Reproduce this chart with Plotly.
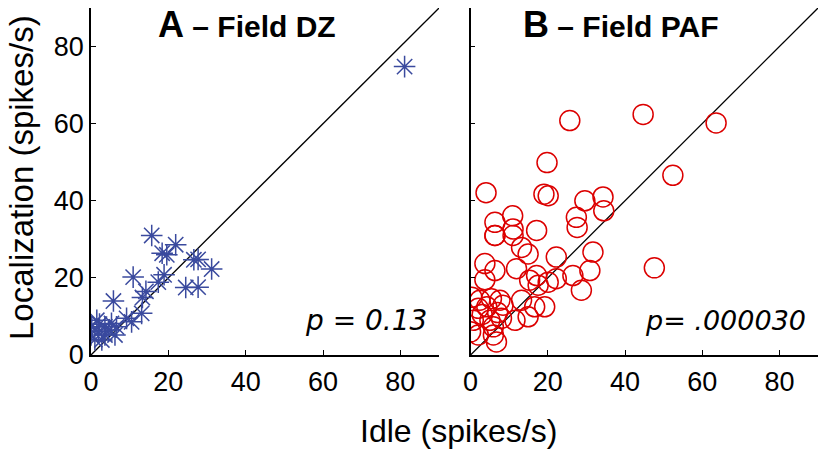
import plotly.graph_objects as go
from plotly.subplots import make_subplots

# Panel A - Field DZ (idle, localization)
dz_idle = [81.1, 15.7, 21.9, 18.4, 19.6, 26.6, 27.7, 31.2, 10.9, 18.9, 17.4, 24.5, 27.7,
           14.2, 13.3, 5.8, 13.1, 9.2, 10.5, 1.5, 5.3, 3.6, 6.6, 1.9, 0.2, 0.0, 3.6, 6.2,
           2.8, 1.0, 4.5, 2.2]
dz_loc = [74.8, 31.0, 28.6, 26.4, 26.0, 24.7, 24.8, 22.3, 20.2, 20.8, 18.9, 17.5, 17.6,
          16.5, 14.9, 14.0, 10.8, 9.5, 8.6, 9.0, 8.2, 7.3, 7.3, 6.0, 7.3, 5.2, 5.2, 5.2,
          3.9, 4.0, 6.5, 8.0]

# Panel B - Field PAF (idle, localization)
paf_idle = [25.7, 44.7, 63.6, 52.4, 47.6, 19.8, 4.0, 19.0, 20.1, 29.6, 34.3, 34.5, 10.9,
            6.3, 27.4, 27.6, 17.1, 11.0, 6.3, 6.3, 11.0, 31.7, 13.2, 14.9, 22.2, 30.9,
            26.5, 28.7, 3.7, 6.3, 11.9, 17.1, 3.7, 15.3, 17.5, 20.1, 22.2, 0.3, 2.4, 5.4,
            7.6, 8.4, 4.2, 2.0, 13.2, 16.6, 19.2, 14.9, 11.5, 8.0, 5.0, 0.7, 5.9, 0.0,
            2.0, 5.9, 6.7, 3.0, 7.0]
paf_loc = [60.8, 62.4, 60.2, 46.6, 22.6, 49.9, 42.1, 41.7, 41.3, 40.0, 41.0, 37.4, 36.1,
           34.4, 35.7, 33.1, 32.3, 32.7, 31.0, 31.0, 31.0, 26.7, 27.9, 26.2, 25.4, 21.9,
           20.6, 16.8, 23.7, 21.9, 22.4, 20.6, 19.5, 19.4, 18.1, 18.9, 19.8, 15.0, 14.2,
           14.6, 14.2, 12.9, 12.5, 12.1, 14.2, 12.5, 12.5, 9.9, 9.0, 9.5, 9.0, 9.0, 7.3,
           6.0, 5.2, 5.2, 3.4, 10.5, 11.0]

ticks = [0, 20, 40, 60, 80]
axis_max = 90

FONT = "Liberation Sans, Arial, Helvetica, sans-serif"
PFONT = "DejaVu Sans, Liberation Sans, sans-serif"
BLUE = "rgb(58,74,158)"
RED = "rgb(220,0,0)"

fig = make_subplots(rows=1, cols=2, horizontal_spacing=0.0)

for col in (1, 2):
    fig.add_trace(go.Scatter(x=[0, axis_max], y=[0, axis_max], mode="lines",
                             line=dict(color="black", width=1.3), hoverinfo="skip",
                             showlegend=False), row=1, col=col)

fig.add_trace(go.Scatter(x=dz_idle, y=dz_loc, mode="markers",
                         marker=dict(symbol="asterisk-open", size=18, color=BLUE,
                                     line=dict(color=BLUE, width=1.5)),
                         showlegend=False), row=1, col=1)
fig.add_trace(go.Scatter(x=paf_idle, y=paf_loc, mode="markers",
                         marker=dict(symbol="circle-open", size=20, color=RED,
                                     line=dict(color=RED, width=1.5)),
                         showlegend=False), row=1, col=2)

W, H = 819, 452
ml, mr, mt, mb = 91, 1, 8, 97
pw = W - ml - mr
ph = H - mt - mb
dA = [0, 348 / pw]
dB = [379.6 / pw, 1]

axis_common = dict(range=[0, axis_max], tickvals=ticks, ticks="inside", ticklen=5,
                   tickwidth=1.2, tickcolor="black", showline=True, linecolor="black",
                   linewidth=1.5, showgrid=False, zeroline=False, automargin=False,
                   tickfont=dict(family=FONT, size=27, color="black"))

fig.update_xaxes(**axis_common)
fig.update_yaxes(**axis_common)
fig.update_layout(xaxis=dict(domain=dA, ticklabelstandoff=2),
                  xaxis2=dict(domain=dB, ticklabelstandoff=2),
                  yaxis=dict(ticklabelstandoff=0),
                  yaxis2=dict(showticklabels=False))


def px(x, y):
    return (x - ml) / pw, (H - y - mb) / ph


annotations = []


def add(text, x, y, family, size, xanchor="center", angle=0):
    ax, ay = px(x, y)
    annotations.append(dict(text=text, x=ax, y=ay, xref="paper", yref="paper",
                            showarrow=False, xanchor=xanchor, yanchor="middle",
                            textangle=angle,
                            font=dict(family=family, size=size, color="black")))


add("<b><span style='font-size:36px'>A</span> – Field DZ</b>", 156, 24, FONT, 30, "left")
add("<b><span style='font-size:36px'>B</span> – Field PAF</b>", 521, 24, FONT, 30, "left")
add("<i>p = 0.13</i>", 366, 320, PFONT, 28)
add("<i>p= .000030</i>", 725, 320, PFONT, 27)
add("Idle (spikes/s)", 458, 431, FONT, 32)
add("Localization (spikes/s)", 21, 178, FONT, 33, angle=-90)

fig.update_layout(width=W, height=H, margin=dict(l=ml, r=mr, t=mt, b=mb),
                  plot_bgcolor="white", paper_bgcolor="white",
                  annotations=annotations)

fig.write_html("out.html", config={"displayModeBar": False},
               post_script="document.body.style.margin='0';document.body.style.overflow='hidden';")
